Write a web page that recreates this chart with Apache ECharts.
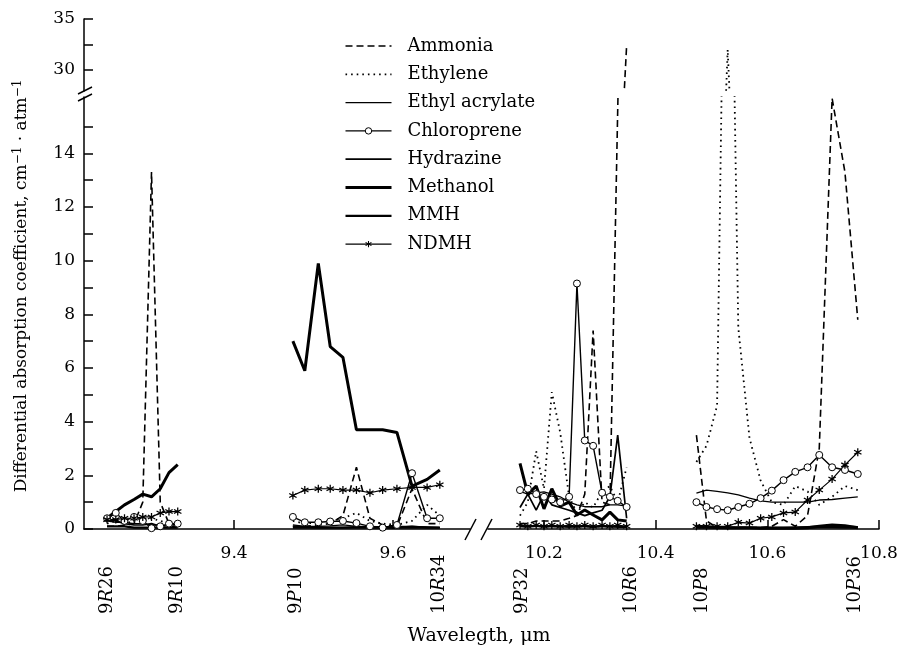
<!DOCTYPE html>
<html><head><meta charset="utf-8">
<script src="https://cdn.jsdelivr.net/npm/echarts@6/dist/echarts.min.js"></script>
<style>html,body{margin:0;padding:0;background:#fff}#c{width:898px;height:653px}</style>
</head><body><div id="c"></div>
<script>
// ---- wavelength positions (µm) of the laser lines in each group ----
const xG1 = [9.240, 9.251, 9.262, 9.274, 9.285, 9.296, 9.307, 9.318, 9.329];
const xG2 = [9.474, 9.489, 9.506, 9.521, 9.537, 9.554, 9.571, 9.587, 9.605, 9.624, 9.643, 9.659];
const xG3 = [10.157, 10.171, 10.186, 10.200, 10.214, 10.229, 10.245, 10.259, 10.273, 10.288, 10.304, 10.318, 10.332, 10.348];
const xG4 = [10.473, 10.491, 10.510, 10.529, 10.548, 10.568, 10.588, 10.608, 10.629, 10.650, 10.672, 10.693, 10.716, 10.739, 10.762];

// ---- laser line labels ----
const lineLabelNames = ['9R26', '9R10', '9P10', '10R34', '9P32', '10R6', '10P8', '10P36'];
const lineLabelX = [9.241, 9.329, 9.478, 9.659, 10.161, 10.357, 10.483, 10.758];

// ---- tick values ----
const xTicksLeft = [9.4, 9.6];
const xTicksRight = [10.2, 10.4, 10.6, 10.8];
const yTicksLow = [0, 1, 2, 3, 4, 5, 6, 7, 8, 9, 10, 11, 12, 13, 14, 15];
const yLabelsLow = [0, 2, 4, 6, 8, 10, 12, 14];
const yTicksHigh = [30, 32.5, 35];
const yLabelsHigh = [30, 35];

// ---- series values per group ----
const ammonia1 = [0.1, 0.1, 0.15, 0.2, 1.0, 13.3, 1.0, 0.2, 0.1];
const ammonia2 = [0.1, 0.1, 0.15, 0.2, 0.5, 2.3, 0.4, 0.15, 0.1, 1.5, 0.2, 0.2];
const ammonia3 = [0.2, 0.2, 0.3, 0.3, 0.3, 0.3, 0.4, 0.5, 1.3, 7.4, 1.0, 0.9, null, 32.4];
const ammonia4 = [3.5, 0.3, 0.05, 0.05, 0.05, 0.05, 0.05, 0.1, 0.35, 0.1, 0.5, 3.0, 16.05, 13.3, 7.8];

const ethylene1 = [0.2, 0.3, 0.2, 0.3, 0.3, 0.4, 0.3, 0.2, 0.2];
const ethylene2 = [0.3, 0.2, 0.25, 0.3, 0.4, 0.6, 0.3, 0.2, 0.15, 0.3, 0.9, 0.5];
const ethylene3 = [0.5, 1.0, 2.9, 1.5, 5.1, 3.6, 1.2, 0.6, 1.0, 0.8, 1.4, 1.6, 1.0, 2.3];
const ethylene4 = [2.5, 3.1, 4.6, 32.0, 7.5, 3.4, 1.8, 1.0, 0.9, 1.6, 1.4, 0.9, 1.2, 1.6, 1.45];

const ethylAcrylate1 = [0.3, 0.25, 0.25, 0.2, 0.2, 0.15, 0.15, 0.1, 0.1];
const ethylAcrylate2 = [0.15, 0.1, 0.1, 0.12, 0.15, 0.1, 0.1, 0.08, 0.1, 0.1, 0.08, 0.05];
const ethylAcrylate3 = [1.4, 1.3, 1.35, 1.38, 1.3, 1.2, 1.0, 0.9, 0.83, 0.83, 0.83, 0.9, 0.9, 0.85];
const ethylAcrylate4 = [1.34, 1.45, 1.4, 1.35, 1.27, 1.15, 1.05, 1.0, 1.0, 1.0, 1.0, 1.08, 1.1, 1.15, 1.2];

const chloroprene1 = [0.4, 0.6, 0.3, 0.45, 0.3, 0.03, 0.1, 0.2, 0.2];
const chloroprene2 = [0.45, 0.25, 0.25, 0.28, 0.3, 0.22, 0.1, 0.05, 0.15, 2.08, 0.4, 0.4];
const chloroprene3 = [1.45, 1.5, 1.3, 1.2, 1.1, 1.0, 1.2, 9.15, 3.3, 3.1, 1.35, 1.2, 1.05, 0.82];
const chloroprene4 = [1.0, 0.82, 0.74, 0.7, 0.82, 0.94, 1.15, 1.43, 1.82, 2.13, 2.3, 2.76, 2.3, 2.2, 2.05];

const hydrazine1 = [0.35, 0.3, 0.2, 0.15, 0.15, 0.2, 0.1, 0.15, 0.2];
const hydrazine2 = [0.1, 0.08, 0.05, 0.05, 0.05, 0.08, 0.05, 0.05, 0.05, 0.1, 0.05, 0.05];
const hydrazine3 = [0.8, 1.3, 0.7, 1.3, 0.9, 0.8, 0.7, 0.6, 0.5, 0.6, 0.7, 1.2, 3.5, 0.4];
const hydrazine4 = [0.1, 0.08, 0.06, 0.05, 0.05, 0.05, 0.05, 0.05, 0.05, 0.05, 0.08, 0.1, 0.12, 0.1, 0.08];

const methanol1 = [0.4, 0.65, 0.9, 1.1, 1.3, 1.2, 1.5, 2.1, 2.4];
const methanol2 = [7.0, 5.9, 9.9, 6.8, 6.4, 3.7, 3.7, 3.7, 3.6, 1.6, 1.85, 2.2];
const methanol3 = [2.45, 1.3, 1.6, 0.75, 1.5, 0.85, 1.0, 0.52, 0.71, 0.52, 0.34, 0.63, 0.34, 0.3];
const methanol4 = [0.1, 0.08, 0.06, 0.05, 0.05, 0.05, 0.03, 0.03, 0.03, 0.03, 0.05, 0.1, 0.15, 0.12, 0.05];

const mmh1 = [0.1, 0.1, 0.1, 0.05, 0.05, 0.05, 0.05, 0.05, 0.05];
const mmh2 = [0.05, 0.05, 0.05, 0.05, 0.05, 0.05, 0.05, 0.05, 0.05, 0.05, 0.05, 0.05];
const mmh3 = [0.1, 0.1, 0.12, 0.1, 0.1, 0.1, 0.08, 0.1, 0.1, 0.08, 0.1, 0.1, 0.08, 0.08];
const mmh4 = [0.05, 0.05, 0.05, 0.04, 0.04, 0.04, 0.04, 0.04, 0.04, 0.05, 0.05, 0.06, 0.06, 0.05, 0.05];

const ndmh1 = [0.35, 0.35, 0.4, 0.4, 0.45, 0.45, 0.6, 0.65, 0.65];
const ndmh2 = [1.25, 1.45, 1.5, 1.5, 1.45, 1.45, 1.35, 1.45, 1.5, 1.55, 1.55, 1.65];
const ndmh3 = [0.15, 0.1, 0.15, 0.1, 0.15, 0.1, 0.15, 0.1, 0.15, 0.1, 0.15, 0.1, 0.15, 0.1];
const ndmh4 = [0.1, 0.1, 0.1, 0.1, 0.25, 0.22, 0.4, 0.45, 0.6, 0.63, 1.08, 1.45, 1.86, 2.39, 2.86];

const seriesNames = ['Ammonia', 'Ethylene', 'Ethyl acrylate', 'Chloroprene', 'Hydrazine', 'Methanol', 'MMH', 'NDMH'];
const seriesGroups = {
  'Ammonia': [ammonia1, ammonia2, ammonia3, ammonia4],
  'Ethylene': [ethylene1, ethylene2, ethylene3, ethylene4],
  'Ethyl acrylate': [ethylAcrylate1, ethylAcrylate2, ethylAcrylate3, ethylAcrylate4],
  'Chloroprene': [chloroprene1, chloroprene2, chloroprene3, chloroprene4],
  'Hydrazine': [hydrazine1, hydrazine2, hydrazine3, hydrazine4],
  'Methanol': [methanol1, methanol2, methanol3, methanol4],
  'MMH': [mmh1, mmh2, mmh3, mmh4],
  'NDMH': [ndmh1, ndmh2, ndmh3, ndmh4]
};

const FONT = "'DejaVu Serif', serif";
const BLACK = '#000';
const ASTERISK = 'path://M8.5,0 L11.5,0 L11.5,20 L8.5,20 Z M0.59,6.3 L2.09,3.7 L19.41,13.7 L17.91,16.3 Z M2.09,16.3 L0.59,13.7 L17.91,3.7 L19.41,6.3 Z';

const look = {
  'Ammonia': { line: { width: 1.6, type: [7, 4] }, symbol: 'none' },
  'Ethylene': { line: { width: 1.8, type: [1.6, 4] }, symbol: 'none' },
  'Ethyl acrylate': { line: { width: 1.3, type: 'solid' }, symbol: 'none' },
  'Chloroprene': { line: { width: 1.4, type: 'solid' }, symbol: 'circle', size: 7, item: { color: '#fff', borderColor: BLACK, borderWidth: 1 } },
  'Hydrazine': { line: { width: 1.7, type: 'solid' }, symbol: 'none' },
  'Methanol': { line: { width: 3, type: 'solid' }, symbol: 'none' },
  'MMH': { line: { width: 2.3, type: 'solid' }, symbol: 'none' },
  'NDMH': { line: { width: 1.2, type: 'solid' }, symbol: ASTERISK, size: 8, item: { color: BLACK } }
};

function joinGroups(groups, xs) {
  const out = [];
  groups.forEach((ys, g) => {
    if (g > 0) {
      const prev = xs[g - 1];
      out.push([(prev[prev.length - 1] + xs[g][0]) / 2, '-']);
    }
    ys.forEach((y, i) => { if (y !== null) out.push([xs[g][i], y]); });
  });
  return out;
}

function makeSeries(name, data, xi, yi) {
  const l = look[name];
  return {
    type: 'line', name: name, data: data, xAxisIndex: xi, yAxisIndex: yi,
    symbol: l.symbol, symbolSize: l.size || 4, showSymbol: l.symbol !== 'none',
    connectNulls: false, clip: true, silent: true,
    lineStyle: Object.assign({ color: BLACK }, l.line),
    itemStyle: l.item || { color: BLACK },
    emphasis: { disabled: true }
  };
}

const series = [];
seriesNames.forEach(name => {
  const g = seriesGroups[name];
  const left = joinGroups([g[0], g[1]], [xG1, xG2]);
  const right = joinGroups([g[2], g[3]], [xG3, xG4]);
  series.push(makeSeries(name, left, 0, 0));
  series.push(makeSeries(name, right, 1, 1));
  if (name === 'Ammonia' || name === 'Ethylene') {
    series.push(makeSeries(name, right, 3, 3));
  }
});

const LOW_MAX = 16.1, HIGH_MIN = 27.94, HIGH_MAX = 35;
const L_MIN = 9.211, L_MAX = 9.697, R_MIN = 10.0997, R_MAX = 10.8;

const labelFont = { fontFamily: FONT, fontSize: 17, color: BLACK };
const axisLineStyle = { color: BLACK, width: 1.5 };

function valueXAxis(grid, min, max, ticks) {
  return {
    type: 'value', gridIndex: grid, min: min, max: max, position: 'bottom',
    axisLine: { show: true, onZero: false, lineStyle: axisLineStyle },
    axisTick: { show: true, inside: true, length: 9, lineStyle: axisLineStyle, customValues: ticks },
    axisLabel: Object.assign({ show: true, margin: 16, customValues: ticks, formatter: v => v.toFixed(1) }, labelFont),
    splitLine: { show: false }
  };
}
function hiddenAxis(grid, min, max) {
  return { type: 'value', gridIndex: grid, min: min, max: max, show: false, splitLine: { show: false } };
}
function lineLabelText(v) {
  let best = 0;
  lineLabelX.forEach((x, i) => { if (Math.abs(x - v) < Math.abs(lineLabelX[best] - v)) best = i; });
  const m = lineLabelNames[best].match(/^(\d+)([RP])(\d+)$/);
  return '{n|' + m[1] + '}{i|' + m[2] + '}{n|' + m[3] + '}';
}
function labelAxis(grid, min, max, values) {
  return {
    type: 'value', gridIndex: grid, min: min, max: max, position: 'bottom',
    axisLine: { show: false }, axisTick: { show: false }, splitLine: { show: false },
    axisLabel: {
      show: true, customValues: values, rotate: 90, align: 'left', verticalAlign: 'middle', margin: 85,
      formatter: lineLabelText,
      rich: {
        n: { fontFamily: FONT, fontSize: 18, color: BLACK },
        i: { fontFamily: FONT, fontSize: 18, color: BLACK, fontStyle: 'italic' }
      }
    }
  };
}

const option = {
  animation: false,
  backgroundColor: '#fff',
  grid: [
    { left: 84, top: 97, width: 386, height: 432, containLabel: false, outerBoundsMode: 'none' },
    { left: 488, top: 97, width: 391, height: 432, containLabel: false, outerBoundsMode: 'none' },
    { left: 84, top: 19, width: 386, height: 72, containLabel: false, outerBoundsMode: 'none' },
    { left: 488, top: 19, width: 391, height: 72, containLabel: false, outerBoundsMode: 'none' }
  ],
  xAxis: [
    valueXAxis(0, L_MIN, L_MAX, xTicksLeft),
    valueXAxis(1, R_MIN, R_MAX, xTicksRight),
    hiddenAxis(2, L_MIN, L_MAX),
    hiddenAxis(3, R_MIN, R_MAX),
    labelAxis(0, L_MIN, L_MAX, lineLabelX.slice(0, 4)),
    labelAxis(1, R_MIN, R_MAX, lineLabelX.slice(4))
  ],
  yAxis: [
    {
      type: 'value', gridIndex: 0, min: 0, max: LOW_MAX,
      axisLine: { show: true, onZero: false, lineStyle: axisLineStyle },
      axisTick: { show: true, inside: true, length: 9, lineStyle: axisLineStyle, customValues: yTicksLow },
      axisLabel: Object.assign({ show: true, margin: 9, customValues: yLabelsLow }, labelFont),
      splitLine: { show: false }
    },
    hiddenAxis(1, 0, LOW_MAX),
    {
      type: 'value', gridIndex: 2, min: HIGH_MIN, max: HIGH_MAX,
      axisLine: { show: true, onZero: false, lineStyle: axisLineStyle },
      axisTick: { show: true, inside: true, length: 9, lineStyle: axisLineStyle, customValues: yTicksHigh },
      axisLabel: Object.assign({ show: true, margin: 9, customValues: yLabelsHigh }, labelFont),
      splitLine: { show: false }
    },
    hiddenAxis(3, HIGH_MIN, HIGH_MAX)
  ],
  legend: {
    orient: 'vertical', left: 344, top: 36, padding: 0,
    itemWidth: 46, itemHeight: 8, itemGap: 8.3, selectedMode: false,
    data: seriesNames.map(n => ({
      name: n,
      lineStyle: Object.assign({ color: BLACK }, look[n].line),
      itemStyle: look[n].symbol === 'none' ? { opacity: 0 } : look[n].item
    })),
    textStyle: { fontFamily: FONT, fontSize: 18, color: BLACK, lineHeight: 20, padding: [0, 0, 0, 11] }
  },
  graphic: [
    { type: 'line', shape: { x1: 78, y1: 94, x2: 92, y2: 87 }, style: { stroke: BLACK, lineWidth: 1.5 } },
    { type: 'line', shape: { x1: 78, y1: 101, x2: 92, y2: 94 }, style: { stroke: BLACK, lineWidth: 1.5 } },
    { type: 'line', shape: { x1: 465, y1: 540, x2: 476, y2: 519 }, style: { stroke: BLACK, lineWidth: 1.5 } },
    { type: 'line', shape: { x1: 481, y1: 540, x2: 492, y2: 519 }, style: { stroke: BLACK, lineWidth: 1.5 } },
    {
      type: 'text', x: 22, y: 286, rotation: Math.PI / 2,
      style: {
        text: '{t|Differential absorption coefficient, cm}{s|−1}{t| · atm}{s|−1}',
        align: 'center', verticalAlign: 'middle', fill: BLACK,
        rich: {
          t: { fontFamily: FONT, fontSize: 17, lineHeight: 20, fill: BLACK, color: BLACK },
          s: { fontFamily: FONT, fontSize: 12, lineHeight: 20, verticalAlign: 'top', fill: BLACK, color: BLACK }
        }
      }
    },
    {
      type: 'text', x: 479, y: 636,
      style: { text: 'Wavelegth, μm', align: 'center', verticalAlign: 'middle', fill: BLACK, font: "19px 'DejaVu Serif', serif" }
    }
  ],
  series: series
};

const chart = echarts.init(document.getElementById('c'), null, { renderer: 'canvas' });
chart.setOption(option);
</script></body></html>
